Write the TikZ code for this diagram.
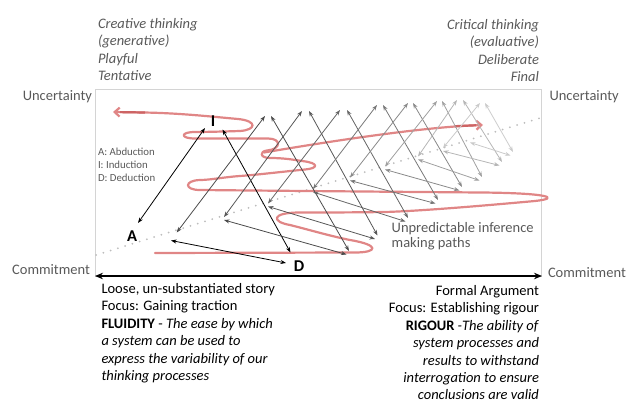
\documentclass[tikz,border=0pt]{standalone}
\usepackage{fontspec}
\setmainfont{Carlito}
\usetikzlibrary{arrows.meta}
\definecolor{txtgray}{HTML}{595959}
\definecolor{boxgray}{HTML}{D4D4D4}
\definecolor{dotgray}{HTML}{BDBDBD}
\definecolor{redline}{RGB}{224,134,134}
\definecolor{reddark}{RGB}{205,100,100}
\definecolor{gA}{HTML}{4A4A4A}
\definecolor{gB}{HTML}{575757}
\definecolor{gC}{HTML}{666666}
\definecolor{gD}{HTML}{777777}
\definecolor{gE}{HTML}{8A8A8A}
\definecolor{gF}{HTML}{A0A0A0}
\definecolor{gG}{HTML}{B6B6B6}
\definecolor{gH}{HTML}{CACACA}
\begin{document}
\begin{tikzpicture}[x=1pt,y=-1pt,
  every node/.style={inner sep=0pt,outer sep=0pt},
  bigtext/.style={font=\fontsize{14.5}{17.4}\selectfont},
  toptext/.style={font=\fontsize{14.5}{17.4}\selectfont\itshape, text=txtgray},
  axislabel/.style={font=\fontsize{14.5}{17.4}\selectfont, text=txtgray},
  legendtext/.style={font=\fontsize{10.8}{13}\selectfont, text=txtgray},
  vertexlabel/.style={font=\fontsize{16.5}{18}\selectfont\bfseries},
  inf/.style={line width=0.8pt,{Stealth[length=5.5pt,width=4pt]}-{Stealth[length=5.5pt,width=4pt]}},
  redpath/.style={draw=redline,line width=2.2pt,line cap=round,line join=round},
]
\useasboundingbox (0,0) rectangle (633,404);

% frame
\draw[boxgray,line width=0.8pt] (95,89) rectangle (541,276);

% dotted diagonal
\coordinate (dotS) at (96,255);
\coordinate (dotE) at (540,118);
\draw[dotgray,line width=2pt,line cap=round,dash pattern=on 0pt off 7.6pt] (dotS) -- (dotE);

% axis arrow
\coordinate (axL) at (95,276);
\coordinate (axR) at (542,276);
\draw[line width=1.8pt,{Stealth[length=8pt,width=6.5pt]}-{Stealth[length=8pt,width=6.5pt]}] (axL) -- (axR);

% text blocks
\node[toptext,anchor=north west,align=left] (creative) at (98,18.5)
  {Creative thinking\\(generative)\\Playful\\Tentative};
\node[toptext,anchor=north east,align=right] (critical) at (539,19.5)
  {Critical thinking\\(evaluative)\\Deliberate\\Final};
\node[axislabel,anchor=base east] (uncL) at (92,100.5) {Uncertainty};
\node[axislabel,anchor=base west] (uncR) at (549.5,100.5) {Uncertainty};
\node[axislabel,anchor=base east] (comL) at (90,274) {Commitment};
\node[axislabel,anchor=base west] (comR) at (548,277) {Commitment};
\node[bigtext,anchor=north west,align=left] (fluid) at (101.5,283.5)
  {Loose, un-substantiated story\\Focus: Gaining traction\\\textbf{FLUIDITY} - \textit{The ease by which}\\\textit{a system can be used to}\\\textit{express the variability of our}\\\textit{thinking processes}};
\node[bigtext,anchor=north east,align=right] (rigour) at (539,285.5)
  {Formal Argument\\Focus: Establishing rigour\\\textbf{RIGOUR} \textit{-The ability of}\\\textit{system processes and}\\\textit{results to withstand}\\\textit{interrogation to ensure}\\\textit{conclusions are valid}};
\node[legendtext,anchor=north west,align=left] (legend) at (98,148.5)
  {A: Abduction\\I: Induction\\D: Deduction};
\node[font=\fontsize{14.5}{15.6}\selectfont,text=txtgray,anchor=north west,align=left] (unpred) at (391.7,222)
  {Unpredictable inference\\making paths};

% red scribble
\coordinate (rs) at (113,112);
\coordinate (re) at (155,253);
\draw[redpath,-{Straight Barb[length=5pt,width=9pt]}] (re) -- (355,252.5)
 .. controls (378,252.5) and (380,245) .. (350,240)
 .. controls (330,236) and (310,230) .. (290,225)
 .. controls (272,222) and (270,212.5) .. (300,212.5)
 .. controls (320,212.5) and (350,212.5) .. (385,212)
 .. controls (420,211) and (480,206) .. (535,201)
 .. controls (562,198) and (548,193) .. (480,192.5)
 .. controls (420,192) and (300,191) .. (200,190)
 .. controls (184,190) and (184,180.5) .. (200,180)
 .. controls (210,180) and (225,177) .. (240,176)
 .. controls (255,175) and (280,172) .. (305,169.5)
 .. controls (318,168.5) and (320,163) .. (302,161)
 .. controls (295,160) and (285,158) .. (270,158)
 .. controls (260,158) and (259,151.5) .. (267,150.5)
 .. controls (281,149.5) and (282,138.5) .. (268,138.5)
 -- (195,138.5)
 .. controls (180,138.5) and (180,132) .. (195,132)
 .. controls (205,132) and (225,131.5) .. (240,131)
 .. controls (256,130) and (258,121) .. (238,119)
 .. controls (215,117) and (180,113) .. (143,112.5)
 -- (rs);
\draw[draw=reddark,line width=2.2pt] (145,112.5) -- (120,112.1);
% red arrow to the right
\coordinate (ra1) at (264,152.5);
\coordinate (ra2) at (483,125);
\draw[redpath,-{Straight Barb[length=5pt,width=9pt]}] (ra1) .. controls (320,143) and (420,127) .. (ra2);
\draw[draw=reddark,line width=2.2pt] (455,126.2) -- (476,125.3);

% black triangle
\coordinate (bAi) at (138,223);
\coordinate (bIa) at (205,128);
\coordinate (bId) at (222.5,129.5);
\coordinate (bDi) at (290.5,252.5);
\coordinate (bAd) at (171,240.5);
\coordinate (bDa) at (286,263);
\draw[inf,black] (bAi) -- (bIa);
\draw[inf,black] (bId) -- (bDi);
\draw[inf,black] (bAd) -- (bDa);
\node[vertexlabel] (labA) at (132,236) {A};
\node[vertexlabel] (labI) at (213,121) {I};
\node[vertexlabel] (labD) at (299,266) {D};

% A points on the diagonal
\coordinate (P1) at (176.7,234);
\coordinate (P2) at (224,218.5);
\coordinate (P3) at (268,205);
\coordinate (P4) at (313,190.5);
\coordinate (P5) at (350,179);
\coordinate (P6) at (385,168);
\coordinate (P7) at (418,158);
\coordinate (P8) at (443,149.5);
\coordinate (P9) at (470,141);
% apexes
\coordinate (L2) at (265,116); \coordinate (R2) at (271,116);
\coordinate (L3) at (302,111); \coordinate (R3) at (309,111);
\coordinate (L4) at (340,110); \coordinate (R4) at (347,110);
\coordinate (L5) at (377,105); \coordinate (R5) at (383,105);
\coordinate (L6) at (408,103); \coordinate (R6) at (413,103);
\coordinate (L7) at (437,101); \coordinate (R7) at (442,101);
\coordinate (L8) at (457,100); \coordinate (R8) at (463,100);
\coordinate (L9) at (480,103); \coordinate (R9) at (485,103);
% D points
\coordinate (D2) at (349,251);
\coordinate (D3) at (377.5,235.5);
\coordinate (D4) at (408,218);
\coordinate (D5) at (438,200);
\coordinate (D6) at (462,187);
\coordinate (D7) at (482,177);
\coordinate (D8) at (502,162);
\coordinate (D9) at (513,152);

\foreach \k/\p/\c in {2/1/gA,3/2/gB,4/3/gC,5/4/gD,6/5/gE,7/6/gF,8/7/gG,9/8/gH}{
  \draw[inf,\c] ([yshift=1.5pt]P\p) -- (L\k);
  \draw[inf,\c] (R\k) -- (D\k);
  \draw[inf,\c] ([yshift=-1.5pt]P\k) -- ([xshift=-2.5pt,yshift=-3.5pt]D\k);
}
\end{tikzpicture}
\end{document}
